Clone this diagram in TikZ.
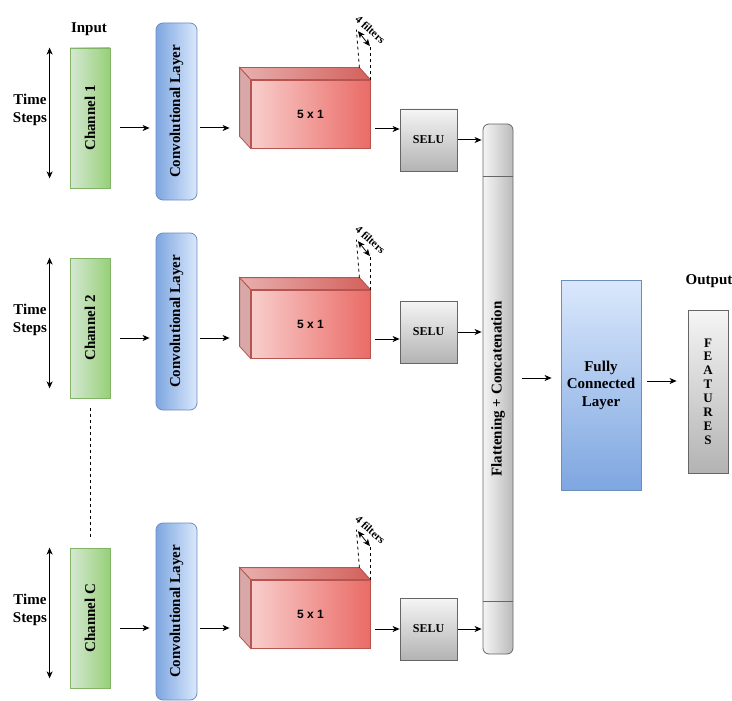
\documentclass[tikz,border=0pt]{standalone}
\usepackage{fontspec}
\setmainfont{Liberation Serif}
\newfontfamily\boxsans{Liberation Sans}
\usetikzlibrary{arrows.meta,calc}

\definecolor{chanlight}{HTML}{D5E8D4}
\definecolor{chandark}{HTML}{97D077}
\definecolor{chanline}{HTML}{82B366}
\definecolor{convlight}{HTML}{DAE8FC}
\definecolor{convdark}{HTML}{7EA6E0}
\definecolor{convline}{HTML}{6C8EBF}
\definecolor{cubelight}{HTML}{F8CECC}
\definecolor{cubedark}{HTML}{EA6B66}
\definecolor{cubetop}{HTML}{E8B0AE}
\definecolor{cubeside}{HTML}{D8A8A8}
\definecolor{cubeline}{HTML}{B85450}
\definecolor{graylight}{HTML}{F5F5F5}
\definecolor{graydark}{HTML}{B3B3B3}
\definecolor{grayline}{HTML}{666666}

\begin{document}
\begin{tikzpicture}[x=1pt,y=-1pt,line width=0.8pt,
  arr/.style={-{Stealth[length=7pt,width=6pt,inset=2pt]}, line width=1pt},
  dblarr/.style={{Stealth[length=7pt,width=6pt,inset=2pt]}-{Stealth[length=7pt,width=6pt,inset=2pt]}, line width=1pt},
  chan/.style={draw=chanline, left color=chanlight, right color=chandark,
    minimum width=40pt, minimum height=140pt, inner sep=0pt},
  conv/.style={draw=convline, rounded corners=7pt, left color=convdark, right color=convlight,
    minimum width=41pt, minimum height=177pt, inner sep=0pt},
  front/.style={draw=cubeline, left color=cubelight, right color=cubedark,
    minimum width=119pt, minimum height=68pt, inner sep=0pt,
    font=\boxsans\bfseries\fontsize{12}{14}\selectfont},
  selubox/.style={draw=grayline, top color=graylight, bottom color=graydark,
    minimum width=57pt, minimum height=62pt, inner sep=0pt,
    font=\bfseries\fontsize{12}{14}\selectfont},
  vtext/.style={rotate=90, font=\bfseries\fontsize{15}{18}\selectfont},
  lbl/.style={font=\bfseries\fontsize{15}{17.5}\selectfont, align=center},
  dashline/.style={dash pattern=on 3pt off 3pt, line width=0.8pt}]

  \useasboundingbox (0,0) rectangle (732,701);

  % Headings
  \node[lbl] (input) at (89,29) {Input};
  \node[lbl] (output) at (709,281) {Output};

  % Rows: channel, convolution, filters, activation
  \foreach \i/\o/\s/\lab in {1/0/140/1, 2/210/332/2, 3/500/629/C} {
    \node[chan] (ch\i) at (90,118+\o) {};
    \node[vtext] (chtext\i) at (ch\i) {Channel \lab};
    \node[lbl] (time\i) at (30,110+\o) {Time\\Steps};
    \draw[dblarr] ($(ch\i.north west)+(-20,0)$) -- ($(ch\i.south west)+(-20,-10)$);

    \node[conv] (conv\i) at (176.5,111.5+\o) {};
    \node[vtext] (convtext\i) at (conv\i) {Convolutional Layer};

    % cube
    \node[front] (cube\i) at (310.5,114+\o) {5 x 1};
    \filldraw[draw=cubeline, left color=cubetop, right color=cubedark!90!black]
      (cube\i.north west) -- ++(-11,-12) -- ($(cube\i.north east)+(-11,-12)$)
      -- (cube\i.north east) -- cycle;
    \filldraw[draw=cubeline, fill=cubeside]
      (cube\i.north west) -- ++(-11,-12) -- ($(cube\i.south west)+(-11,-12)$)
      -- (cube\i.south west) -- cycle;
    \draw[dashline] ($(cube\i.north east)+(-11,-12)$) -- ++(-3,-38);
    \draw[dashline] (cube\i.north east) -- ++(0,-36);
    \draw[dblarr, line width=0.8pt] ($(cube\i.north east)+(-12.5,-48.5)$) -- ($(cube\i.north east)+(-0.5,-33.5)$);
    \node[rotate=-42, inner sep=0pt, font=\bfseries\fontsize{11}{13}\selectfont] (filt\i) at ($(cube\i.north east)+(0,-50)$) {4 filters};

    \node[selubox] (selu\i) at (428.5,\s) {SELU};

    \coordinate (mid\i) at (0,128+\o);
    \draw[arr, shorten <=10pt, shorten >=6pt] (ch\i.east |- mid\i) -- (conv\i.west |- mid\i);
    \draw[arr, shorten <=3pt, shorten >=21pt] (conv\i.east |- mid\i) -- (cube\i.west |- mid\i);
    \draw[arr, shorten <=5pt] ($(cube\i.east |- mid\i)+(0,1)$) -- ($(selu\i.west |- mid\i)+(0,1)$);
  }

  \draw[dashline, shorten <=10pt, shorten >=10pt] (ch2.south) -- (ch3.north);

  % Flattening + concatenation
  \node[draw=grayline, rounded corners=6pt, left color=graylight, right color=graydark!90,
    minimum width=30pt, minimum height=530pt, inner sep=0pt] (flat) at (498,389) {};
  \draw[grayline] ($(flat.north west)+(0,53)$) -- ($(flat.north east)+(0,53)$);
  \draw[grayline] ($(flat.south west)+(0,-53)$) -- ($(flat.south east)+(0,-53)$);
  \node[vtext] (flattext) at (flat) {Flattening + Concatenation};

  \foreach \i in {1,2,3}
    \draw[arr, shorten <=1pt, shorten >=1pt] (selu\i.east) -- (selu\i.east -| flat.west);

  % Fully connected layer and output
  \node[draw=convline, top color=convlight, bottom color=convdark,
    minimum width=80pt, minimum height=210pt, inner sep=0pt, lbl] (fc) at (601,385) {Fully\\Connected\\Layer};
  \node[draw=grayline, top color=graylight, bottom color=graydark,
    minimum width=40pt, minimum height=163pt, inner sep=0pt, align=center,
    font=\bfseries\fontsize{13}{13.9}\selectfont] (feat) at (708,391.5) {F\\E\\A\\T\\U\\R\\E\\S};

  \coordinate (fcmid) at (0,378);
  \draw[arr, shorten <=9pt, shorten >=9pt] (flat.east |- fcmid) -- (fc.west |- fcmid);
  \coordinate (featmid) at (0,381);
  \draw[arr, shorten <=6pt, shorten >=11pt] (fc.east |- featmid) -- (feat.west |- featmid);
\end{tikzpicture}
\end{document}
